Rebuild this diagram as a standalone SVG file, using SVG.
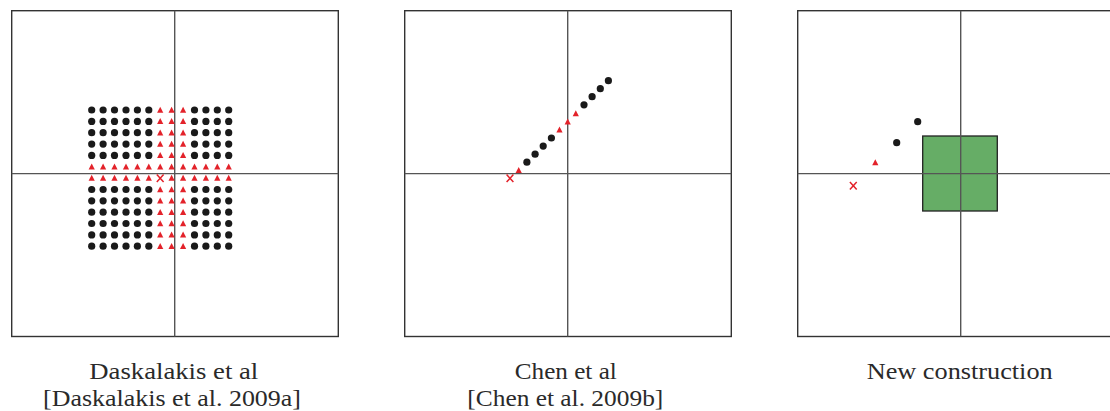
<svg xmlns="http://www.w3.org/2000/svg" xmlns:xlink="http://www.w3.org/1999/xlink" width="1110" height="411" viewBox="0 0 1110 411">
<style>
.frame{fill:none;stroke:#333;stroke-width:1.4}
.axis{stroke:#555;stroke-width:1.4;fill:none}
.cap{font-family:"Liberation Serif","DejaVu Serif",serif;font-size:23px;fill:#2a2a2a;text-anchor:middle}
.dot{fill:#1a1a1a}
.tri{fill:#e3222a}
.x{stroke:#e3222a;stroke-width:1.5;fill:none}
</style>
<defs>
<circle id="d" r="3.6" class="dot"/>
<path id="t" d="M0,-3.3 L3.1,2.7 L-3.1,2.7Z" class="tri"/>
<path id="x" d="M-3.4,-3.8 L3.4,3.8 M-3.4,3.8 L3.4,-3.8" class="x"/>
<g id="rowA">
<use xlink:href="#d" x="91.7"/><use xlink:href="#d" x="103.1"/><use xlink:href="#d" x="114.5"/><use xlink:href="#d" x="126"/><use xlink:href="#d" x="137.4"/><use xlink:href="#d" x="148.8"/>
<use xlink:href="#t" x="160.2"/><use xlink:href="#t" x="171.6"/><use xlink:href="#t" x="183.1"/>
<use xlink:href="#d" x="194.5"/><use xlink:href="#d" x="205.9"/><use xlink:href="#d" x="217.3"/><use xlink:href="#d" x="228.7"/>
</g>
<g id="rowB">
<use xlink:href="#t" x="91.7"/><use xlink:href="#t" x="103.1"/><use xlink:href="#t" x="114.5"/><use xlink:href="#t" x="126"/><use xlink:href="#t" x="137.4"/><use xlink:href="#t" x="148.8"/>
<use xlink:href="#t" x="171.6"/><use xlink:href="#t" x="183.1"/>
<use xlink:href="#t" x="194.5"/><use xlink:href="#t" x="205.9"/><use xlink:href="#t" x="217.3"/><use xlink:href="#t" x="228.7"/>
</g>
</defs>

<g id="panel1">
<rect class="frame" x="11.7" y="10.7" width="326.6" height="325.8"/>
<line class="axis" x1="174.7" y1="10.7" x2="174.7" y2="336.5"/>
<line class="axis" x1="11.7" y1="173.6" x2="338.3" y2="173.6"/>
<use xlink:href="#rowA" y="110"/>
<use xlink:href="#rowA" y="121.4"/>
<use xlink:href="#rowA" y="132.7"/>
<use xlink:href="#rowA" y="144.1"/>
<use xlink:href="#rowA" y="155.4"/>
<use xlink:href="#rowB" y="166.8"/>
<use xlink:href="#t" x="160.2" y="166.8"/>
<use xlink:href="#rowB" y="178.1"/>
<use xlink:href="#x" x="160.2" y="178.3"/>
<use xlink:href="#rowA" y="189.5"/>
<use xlink:href="#rowA" y="200.8"/>
<use xlink:href="#rowA" y="212.2"/>
<use xlink:href="#rowA" y="223.5"/>
<use xlink:href="#rowA" y="234.9"/>
<use xlink:href="#rowA" y="246.2"/>
<text class="cap" x="173.8" y="378.5" textLength="169" lengthAdjust="spacingAndGlyphs">Daskalakis et al</text>
<text class="cap" x="172" y="405.5" textLength="258" lengthAdjust="spacingAndGlyphs">[Daskalakis et al. 2009a]</text>
</g>

<g id="panel2">
<rect class="frame" x="404.7" y="10.7" width="326.6" height="325.8"/>
<line class="axis" x1="567.7" y1="10.7" x2="567.7" y2="336.5"/>
<line class="axis" x1="404.7" y1="173.6" x2="731.3" y2="173.6"/>
<use xlink:href="#x" x="510" y="178.3"/>
<use xlink:href="#t" x="518.7" y="170.2"/>
<use xlink:href="#d" x="526.9" y="162.2"/>
<use xlink:href="#d" x="535.1" y="154.2"/>
<use xlink:href="#d" x="543.2" y="146.1"/>
<use xlink:href="#d" x="551.4" y="138"/>
<use xlink:href="#t" x="559.5" y="129.9"/>
<use xlink:href="#t" x="567.7" y="121.8"/>
<use xlink:href="#t" x="575.8" y="113.6"/>
<use xlink:href="#d" x="584" y="104.8"/>
<use xlink:href="#d" x="592.1" y="96.7"/>
<use xlink:href="#d" x="600.3" y="88.7"/>
<use xlink:href="#d" x="608.4" y="80.7"/>
<text class="cap" x="565.8" y="378.5" textLength="102" lengthAdjust="spacingAndGlyphs">Chen et al</text>
<text class="cap" x="565.3" y="405.5" textLength="196" lengthAdjust="spacingAndGlyphs">[Chen et al. 2009b]</text>
</g>

<g id="panel3">
<rect class="frame" x="797.7" y="10.7" width="326.6" height="325.8"/>
<rect x="922.7" y="136" width="74.6" height="75" fill="#66ad66" stroke="#222" stroke-width="1.3"/>
<line class="axis" x1="960.7" y1="10.7" x2="960.7" y2="336.5"/>
<line class="axis" x1="797.7" y1="173.6" x2="1124.3" y2="173.6"/>
<use xlink:href="#x" x="853.3" y="185.7"/>
<use xlink:href="#t" x="875.3" y="162.5"/>
<use xlink:href="#d" x="896.7" y="142.7"/>
<use xlink:href="#d" x="917.7" y="121.7"/>
<text class="cap" x="959.7" y="378.5" textLength="186" lengthAdjust="spacingAndGlyphs">New construction</text>
</g>
</svg>
